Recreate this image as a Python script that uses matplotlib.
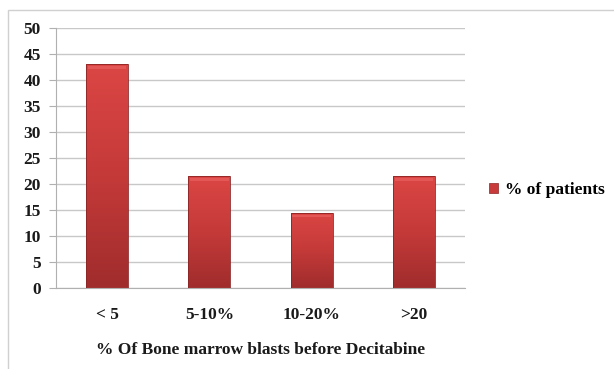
import numpy as np
import matplotlib.pyplot as plt
from matplotlib.patches import Rectangle
from matplotlib.colors import LinearSegmentedColormap

categories = ["< 5", "5-10%", "10-20%", ">20"]
patients_pct = [43, 21.5, 14.5, 21.5]
series_name = "% of patients"
x_title = "% Of Bone marrow blasts before Decitabine"

plt.rcParams["font.family"] = ["Liberation Serif", "DejaVu Serif"]
plt.rcParams["font.weight"] = "bold"

fig = plt.figure(figsize=(6.14, 3.69), dpi=100)
# outer chart border
fig.patches.append(Rectangle((8 / 614, -0.1), 1.2, 1.1 - 10 / 369, transform=fig.transFigure,
                             fill=False, edgecolor="#d0d0d0", linewidth=1.0))

ax = fig.add_axes([56 / 614, 1 - 288 / 369, (465 - 56) / 614, (288 - 28) / 369])

red_cmap = LinearSegmentedColormap.from_list("bar_red", ["#a02c2c", "#c43a39", "#db4644"])
grad = np.linspace(0, 1, 256).reshape(-1, 1)

x = np.arange(len(categories))
bars = ax.bar(x, patients_pct, width=0.41, color="none", edgecolor="#8a2525", linewidth=0.6, zorder=3)
for b in bars:
    x0, y0 = b.get_x(), b.get_y()
    w, h = b.get_width(), b.get_height()
    im = ax.imshow(grad, cmap=red_cmap, aspect="auto", origin="lower",
                   extent=(x0, x0 + w, y0, y0 + h), zorder=2)
    im.set_clip_path(b)
    # light bevel on top
    ax.add_patch(Rectangle((x0 + w * 0.04, y0 + h - 0.9), w * 0.92, 0.5,
                           facecolor="#e86060", edgecolor="none", alpha=0.7, zorder=2.5))

ax.set_xlim(-0.5, len(categories) - 0.5)
ax.set_ylim(0, 50)
ax.set_yticks(np.arange(0, 51, 5))
ax.set_xticks(x)
ax.set_xticklabels(categories)
ax.grid(axis="y", color="#c8c8c8", linewidth=1.0, zorder=0)
ax.set_axisbelow(True)

for s in ["top", "right"]:
    ax.spines[s].set_visible(False)
for s in ["left", "bottom"]:
    ax.spines[s].set_color("#b0b0b0")
ax.tick_params(axis="y", length=5, color="#b0b0b0", labelsize=12.5, pad=6)
ax.tick_params(axis="x", length=0, labelsize=12.5, pad=14)
for lbl in ax.get_xticklabels() + ax.get_yticklabels():
    lbl.set_fontweight("bold")
    lbl.set_color("#1a1a1a")

ax.set_xlabel(x_title, fontsize=12.5, fontweight="bold", color="#1a1a1a", labelpad=13)

handle = Rectangle((0, 0), 1, 1, facecolor="#c93b3a", edgecolor="#8a2525", linewidth=0.5)
leg = fig.legend([handle], [series_name], loc="center left", bbox_to_anchor=(473 / 614, 1 - 190 / 369),
                 frameon=False, handlelength=0.55, handleheight=0.55, handletextpad=0.4,
                 prop={"size": 12.5, "weight": "bold"})

fig.savefig("out.png", dpi=100)
